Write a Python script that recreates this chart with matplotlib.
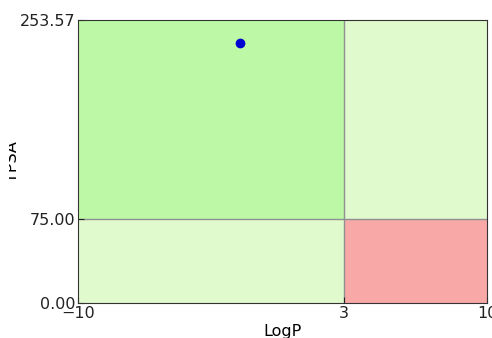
import matplotlib
matplotlib.use("Agg")
import matplotlib.pyplot as plt
from matplotlib.patches import Rectangle
from matplotlib.transforms import Bbox, TransformedBbox

x_min, x_cut, x_max = -10, 3, 10
y_min, y_cut, y_max = 0.0, 75.0, 253.57
point_x = [-2.1]
point_y = [233.0]
xticks = [-10, 3, 10]
yticks = [0.0, 75.0, 253.57]

fig = plt.figure(figsize=(4.92, 3.38), dpi=100)
ax = fig.add_axes([78/492, 35/338, (487-78)/492, (303-20)/338])

ax.add_patch(Rectangle((x_min, y_cut), x_cut - x_min, y_max - y_cut, facecolor="#bcf8a6", edgecolor="none", zorder=0))
ax.add_patch(Rectangle((x_cut, y_cut), x_max - x_cut, y_max - y_cut, facecolor="#e0f9cd", edgecolor="none", zorder=0))
ax.add_patch(Rectangle((x_min, y_min), x_cut - x_min, y_cut - y_min, facecolor="#e0f9cd", edgecolor="none", zorder=0))
ax.add_patch(Rectangle((x_cut, y_min), x_max - x_cut, y_cut - y_min, facecolor="#f9a8a8", edgecolor="none", zorder=0))
ax.axvline(x_cut, color="#909090", lw=1, zorder=1)
ax.axhline(y_cut, color="#909090", lw=1, zorder=1)

ax.plot(point_x, point_y, "o", color="#0000d0", markersize=6, zorder=3)

ax.set_xlim(x_min, x_max)
ax.set_ylim(y_min, y_max)
ax.set_xticks(xticks)
ax.set_xticklabels([f"{t:d}".replace("-", "\u2212") for t in xticks])
ax.set_yticks(yticks)
ax.set_yticklabels([f"{t:.2f}" for t in yticks])
ax.tick_params(direction="in", length=4, labelsize=11.5, pad=2, colors="#222222", top=False, right=False)
for s in ax.spines.values():
    s.set_color("#333333")
ax.set_xlabel("LogP", fontsize=11.5, labelpad=2)
ylab = ax.set_ylabel("TPSA", fontsize=11.5, va="bottom")
ax.yaxis.set_label_coords(-0.143, 0.50)
ylab.set_clip_box(TransformedBbox(Bbox([[9/492, 0], [1, 1]]), fig.transFigure))
ylab.set_clip_on(True)

fig.savefig("out.png", dpi=100)
